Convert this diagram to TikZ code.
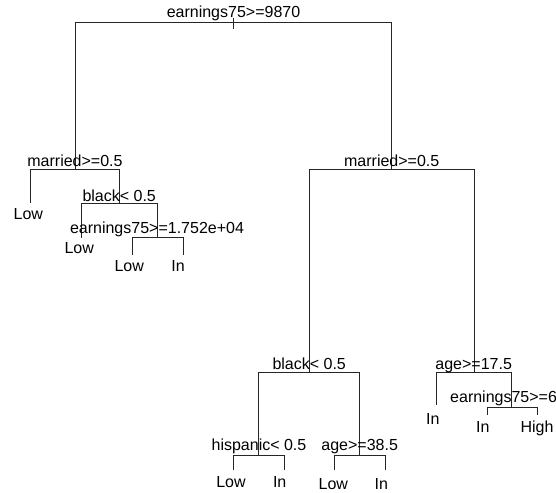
\documentclass[tikz,border=0pt]{standalone}
\usepackage{fontspec}
\setmainfont{Liberation Sans}
\begin{document}
\begin{tikzpicture}[x=1pt,y=-1pt,
  branch/.style={draw=black!85,line width=1pt},
  split/.style={anchor=base,inner sep=0pt,font=\fontsize{16}{19}\selectfont},
  leaf/.style={anchor=base,inner sep=0pt,font=\fontsize{16}{19}\selectfont}]
\useasboundingbox[fill=white] (0,0) rectangle (556,492);

% split points
\coordinate (n1) at (233.3,22.3);
\coordinate (n1top) at (233.3,18);
\coordinate (n1tick) at (233.3,29.5);
\coordinate (n2) at (75.3,169.3);
\coordinate (n3) at (391.7,169.3);
\coordinate (n5) at (119,203.3);
\coordinate (n11) at (157.3,237.3);
\coordinate (n6) at (309.3,372.3);
\coordinate (n7) at (474,372.3);
\coordinate (n12) at (258.3,455.7);
\coordinate (n13) at (359.8,455.7);
\coordinate (n15) at (511,407.3);

% leaf ends
\coordinate (l4) at (30.7,202.7);
\coordinate (l10) at (81.7,238);
\coordinate (l22) at (132.3,255);
\coordinate (l23) at (183.3,255);
\coordinate (l24) at (233.3,470);
\coordinate (l25) at (284,470);
\coordinate (l26) at (334.3,470);
\coordinate (l27) at (385,470);
\coordinate (l14) at (436.7,405);
\coordinate (l30) at (487.3,415);
\coordinate (l31) at (537.3,415);

% branches
\draw[branch] (n1top) -- (n1tick);
\draw[branch] (n1) -| (n2);
\draw[branch] (n1) -| (n3);
\draw[branch] (n2) -| (l4);
\draw[branch] (n2) -| (n5);
\draw[branch] (n5) -| (l10);
\draw[branch] (n5) -| (n11);
\draw[branch] (n11) -| (l22);
\draw[branch] (n11) -| (l23);
\draw[branch] (n3) -| (n6);
\draw[branch] (n3) -| (n7);
\draw[branch] (n6) -| (n12);
\draw[branch] (n6) -| (n13);
\draw[branch] (n12) -| (l24);
\draw[branch] (n12) -| (l25);
\draw[branch] (n13) -| (l26);
\draw[branch] (n13) -| (l27);
\draw[branch] (n7) -| (l14);
\draw[branch] (n7) -| (n15);
\draw[branch] (n15) -| (l30);
\draw[branch] (n15) -| (l31);

% split labels
\node[split] (s1) at (233.5,17.5) {earnings75>=9870};
\node[split] (s2) at (75,166.5) {married>=0.5};
\node[split] (s3) at (391.7,166.5) {married>=0.5};
\node[split] (s5) at (119.2,201.5) {black< 0.5};
\node[split] (s11) at (157,233.2) {earnings75>=1.752e+04};
\node[split] (s6) at (309.2,369.8) {black< 0.5};
\node[split] (s7) at (473.7,369.8) {age>=17.5};
\node[split] (s12) at (259,450.8) {hispanic< 0.5};
\node[split] (s13) at (359.7,450.8) {age>=38.5};
\node[split,anchor=base west] (s15) at (450,402.5) {earnings75>=6};

% leaf labels
\node[leaf] (t4) at (28.3,219.5) {Low};
\node[leaf] (t10) at (79.2,253.5) {Low};
\node[leaf] (t22) at (129.2,271.5) {Low};
\node[leaf] (t23) at (178,271.5) {In};
\node[leaf] (t24) at (231,487) {Low};
\node[leaf] (t25) at (279.7,487) {In};
\node[leaf] (t26) at (333.3,489.5) {Low};
\node[leaf] (t27) at (381.3,489.5) {In};
\node[leaf] (t14) at (432.8,424) {In};
\node[leaf] (t30) at (482.8,432) {In};
\node[leaf] (t31) at (537,432) {High};
\end{tikzpicture}
\end{document}
